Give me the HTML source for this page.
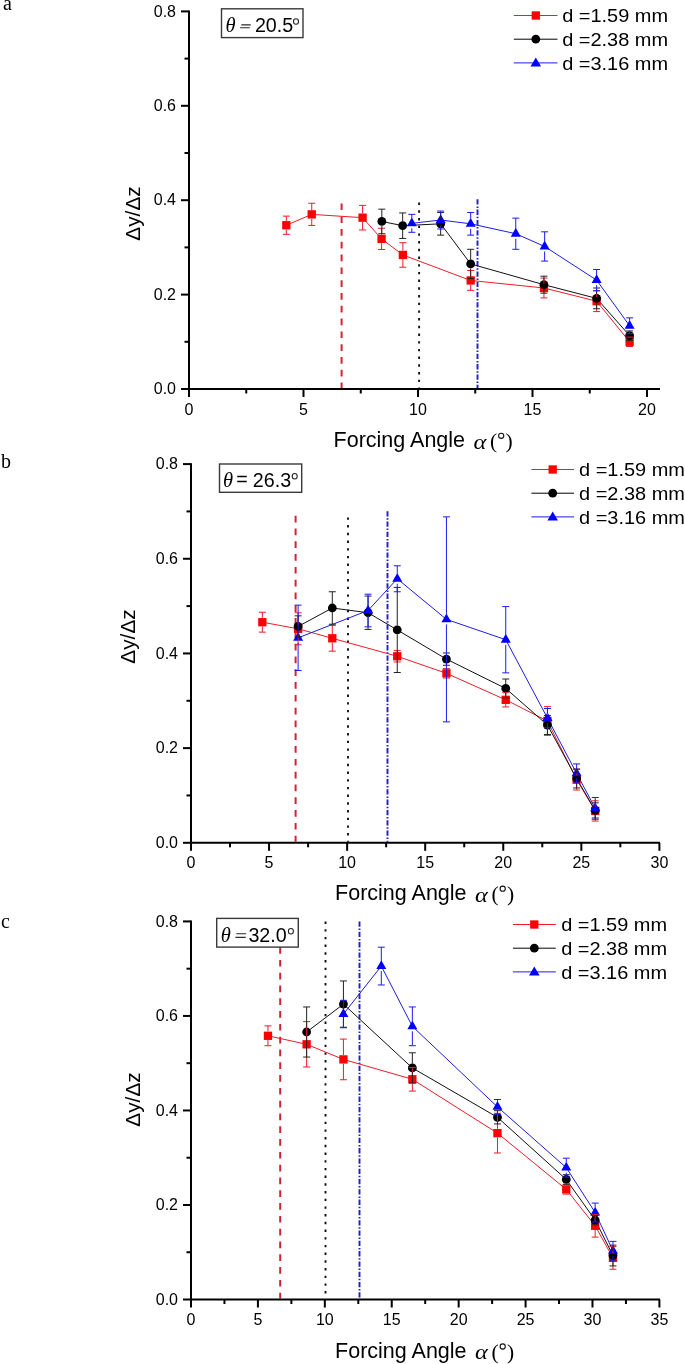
<!DOCTYPE html>
<html><head><meta charset="utf-8"><title>Forcing angle charts</title>
<style>html,body{margin:0;padding:0;background:#fff;}svg{display:block;will-change:transform;}text{fill:#000;}</style>
</head><body>
<svg width="685" height="1364" viewBox="0 0 685 1364" font-family="Liberation Sans, sans-serif">
<rect width="685" height="1364" fill="#fff"/>
<line x1="341.6" y1="203.4" x2="341.6" y2="388" stroke="#cf2433" stroke-width="2" stroke-dasharray="6.7 6.1"/>
<line x1="419.1" y1="202.6" x2="419.1" y2="388" stroke="#111" stroke-width="1.9" stroke-dasharray="2.4 5.3"/>
<line x1="477.5" y1="199.3" x2="477.5" y2="388" stroke="#2020c0" stroke-width="1.9" stroke-dasharray="5.3 1.8 1.5 1.7"/>
<path d="M286.32,225.22 L311.74,214.36 L362.58,217.66 L381.59,238.9 L402.89,254.95 L470.67,280.44 L543.95,287.99 L596.62,301.21 L629.6,341.8" fill="none" stroke="#ee1c2a" stroke-width="1"/>
<path d="M381.82,221.44 L402.66,225.69 L440.67,223.8 L470.67,263.92 L543.95,284.69 L596.62,298.38 L629.6,335.66" fill="none" stroke="#111" stroke-width="1"/>
<path d="M411.82,223.33 L440.67,220.02 L470.67,223.8 L515.78,233.71 L544.64,246.46 L596.62,280.11 L629.6,325.75" fill="none" stroke="#1c1cf0" stroke-width="1"/>
<rect x="282.18" y="221.07" width="8.3" height="8.3" fill="#ff0000"/>
<rect x="307.59" y="210.21" width="8.3" height="8.3" fill="#ff0000"/>
<rect x="358.43" y="213.51" width="8.3" height="8.3" fill="#ff0000"/>
<rect x="377.44" y="234.75" width="8.3" height="8.3" fill="#ff0000"/>
<rect x="398.74" y="250.8" width="8.3" height="8.3" fill="#ff0000"/>
<rect x="466.52" y="276.29" width="8.3" height="8.3" fill="#ff0000"/>
<rect x="539.8" y="283.84" width="8.3" height="8.3" fill="#ff0000"/>
<rect x="592.47" y="297.06" width="8.3" height="8.3" fill="#ff0000"/>
<rect x="625.45" y="337.65" width="8.3" height="8.3" fill="#ff0000"/>
<circle cx="381.82" cy="221.44" r="4.4" fill="#000000"/>
<circle cx="402.66" cy="225.69" r="4.4" fill="#000000"/>
<circle cx="440.67" cy="223.8" r="4.4" fill="#000000"/>
<circle cx="470.67" cy="263.92" r="4.4" fill="#000000"/>
<circle cx="543.95" cy="284.69" r="4.4" fill="#000000"/>
<circle cx="596.62" cy="298.38" r="4.4" fill="#000000"/>
<circle cx="629.6" cy="335.66" r="4.4" fill="#000000"/>
<path d="M411.82,217.46 L416.82,226.26 L406.82,226.26Z" fill="#0000ff"/>
<path d="M440.67,214.16 L445.67,222.96 L435.67,222.96Z" fill="#0000ff"/>
<path d="M470.67,217.93 L475.67,226.73 L465.67,226.73Z" fill="#0000ff"/>
<path d="M515.78,227.85 L520.78,236.65 L510.78,236.65Z" fill="#0000ff"/>
<path d="M544.64,240.59 L549.64,249.39 L539.64,249.39Z" fill="#0000ff"/>
<path d="M596.62,274.24 L601.62,283.04 L591.62,283.04Z" fill="#0000ff"/>
<path d="M629.6,319.89 L634.6,328.69 L624.6,328.69Z" fill="#0000ff"/>
<path d="M286.32,220.92 V216.11 M286.32,229.52 V234.33 M282.82,216.11 H289.82 M282.82,234.33 H289.82 M311.74,210.06 V203.27 M311.74,218.66 V225.45 M308.24,203.27 H315.24 M308.24,225.45 H315.24 M362.58,213.36 V205.39 M362.58,221.96 V229.94 M359.08,205.39 H366.08 M359.08,229.94 H366.08 M381.59,234.6 V228.28 M381.59,243.2 V249.52 M378.09,228.28 H385.09 M378.09,249.52 H385.09 M402.89,250.65 V242.68 M402.89,259.25 V267.22 M399.39,242.68 H406.39 M399.39,267.22 H406.39 M470.67,276.14 V270.53 M470.67,284.74 V290.35 M467.17,270.53 H474.17 M467.17,290.35 H474.17 M543.95,283.69 V278.08 M543.95,292.29 V297.9 M540.45,278.08 H547.45 M540.45,297.9 H547.45 M596.62,296.91 V290.82 M596.62,305.51 V311.59 M593.12,290.82 H600.12 M593.12,311.59 H600.12 M629.6,337.5 V337.08 M629.6,346.1 V346.52 M626.1,337.08 H633.1 M626.1,346.52 H633.1" fill="none" stroke="#ee1c2a" stroke-width="1"/>
<path d="M381.82,217.14 V209.17 M381.82,225.74 V233.71 M378.32,209.17 H385.32 M378.32,233.71 H385.32 M402.66,221.39 V212.94 M402.66,229.99 V238.43 M399.16,212.94 H406.16 M399.16,238.43 H406.16 M440.67,219.5 V212.47 M440.67,228.1 V235.13 M437.17,212.47 H444.17 M437.17,235.13 H444.17 M470.67,259.62 V249.29 M470.67,268.22 V278.55 M467.17,249.29 H474.17 M467.17,278.55 H474.17 M543.95,280.39 V276.19 M543.95,288.99 V293.18 M540.45,276.19 H547.45 M540.45,293.18 H547.45 M596.62,294.08 V287.99 M596.62,302.68 V308.76 M593.12,287.99 H600.12 M593.12,308.76 H600.12 M629.6,331.36 V330.94 M629.6,339.96 V340.38 M626.1,330.94 H633.1 M626.1,340.38 H633.1" fill="none" stroke="#222" stroke-width="1"/>
<path d="M411.82,218.33 V214.36 M411.82,228.33 V232.3 M408.32,214.36 H415.32 M408.32,232.3 H415.32 M440.67,215.02 V211.06 M440.67,225.02 V228.99 M437.17,211.06 H444.17 M437.17,228.99 H444.17 M470.67,218.8 V212.47 M470.67,228.8 V235.13 M467.17,212.47 H474.17 M467.17,235.13 H474.17 M515.78,228.71 V218.14 M515.78,238.71 V249.29 M512.28,218.14 H519.28 M512.28,249.29 H519.28 M544.64,241.46 V231.82 M544.64,251.46 V261.09 M541.14,231.82 H548.14 M541.14,261.09 H548.14 M596.62,275.11 V269.49 M596.62,285.11 V290.73 M593.12,269.49 H600.12 M593.12,290.73 H600.12 M629.6,320.75 V317.87 M629.6,330.75 V333.63 M626.1,317.87 H633.1 M626.1,333.63 H633.1" fill="none" stroke="#1c1cf0" stroke-width="1"/>
<line x1="189" y1="10.4" x2="189" y2="390" stroke="#000" stroke-width="2"/>
<line x1="188" y1="389" x2="660" y2="389" stroke="#000" stroke-width="2"/>
<line x1="181" y1="389" x2="189" y2="389" stroke="#000" stroke-width="2"/>
<text x="176" y="394.2" font-size="16" text-anchor="end">0.0</text>
<line x1="184.5" y1="341.8" x2="189" y2="341.8" stroke="#000" stroke-width="2"/>
<line x1="181" y1="294.6" x2="189" y2="294.6" stroke="#000" stroke-width="2"/>
<text x="176" y="299.8" font-size="16" text-anchor="end">0.2</text>
<line x1="184.5" y1="247.4" x2="189" y2="247.4" stroke="#000" stroke-width="2"/>
<line x1="181" y1="200.2" x2="189" y2="200.2" stroke="#000" stroke-width="2"/>
<text x="176" y="205.4" font-size="16" text-anchor="end">0.4</text>
<line x1="184.5" y1="153" x2="189" y2="153" stroke="#000" stroke-width="2"/>
<line x1="181" y1="105.8" x2="189" y2="105.8" stroke="#000" stroke-width="2"/>
<text x="176" y="111" font-size="16" text-anchor="end">0.6</text>
<line x1="184.5" y1="58.6" x2="189" y2="58.6" stroke="#000" stroke-width="2"/>
<line x1="181" y1="11.4" x2="189" y2="11.4" stroke="#000" stroke-width="2"/>
<text x="176" y="16.6" font-size="16" text-anchor="end">0.8</text>
<line x1="189" y1="389" x2="189" y2="397" stroke="#000" stroke-width="2"/>
<text x="189" y="415" font-size="16" text-anchor="middle">0</text>
<line x1="246.25" y1="389" x2="246.25" y2="393.5" stroke="#000" stroke-width="2"/>
<line x1="303.5" y1="389" x2="303.5" y2="397" stroke="#000" stroke-width="2"/>
<text x="303.5" y="415" font-size="16" text-anchor="middle">5</text>
<line x1="360.75" y1="389" x2="360.75" y2="393.5" stroke="#000" stroke-width="2"/>
<line x1="418" y1="389" x2="418" y2="397" stroke="#000" stroke-width="2"/>
<text x="418" y="415" font-size="16" text-anchor="middle">10</text>
<line x1="475.25" y1="389" x2="475.25" y2="393.5" stroke="#000" stroke-width="2"/>
<line x1="532.5" y1="389" x2="532.5" y2="397" stroke="#000" stroke-width="2"/>
<text x="532.5" y="415" font-size="16" text-anchor="middle">15</text>
<line x1="589.75" y1="389" x2="589.75" y2="393.5" stroke="#000" stroke-width="2"/>
<line x1="647" y1="389" x2="647" y2="397" stroke="#000" stroke-width="2"/>
<text x="647" y="415" font-size="16" text-anchor="middle">20</text>
<rect x="221.5" y="8.8" width="81.5" height="28.8" fill="#fff" stroke="#3a3a3a" stroke-width="1.4"/>
<text x="225.4" y="32.3" font-size="20.5" style="font-family:Liberation Serif;font-style:italic">θ</text>
<path d="M241.3,24.9 H250.7 M240.1,27.8 H249.8" stroke="#2a2a2a" stroke-width="1.1" fill="none"/>
<text x="254.9" y="32.2" font-size="19.7">20.5</text>
<ellipse cx="296" cy="21.5" rx="2.5" ry="2.8" fill="none" stroke="#222" stroke-width="1.05"/>
<line x1="513.8" y1="15.5" x2="557.5" y2="15.5" stroke="#ee1c2a" stroke-width="1"/>
<rect x="531.65" y="11.35" width="8.3" height="8.3" fill="#ff0000"/>
<text transform="translate(562.2,21.9) scale(1.062,1)" font-size="18.8">d =1.59 mm</text>
<line x1="513.8" y1="39.2" x2="557.5" y2="39.2" stroke="#000" stroke-width="1"/>
<circle cx="535.8" cy="39.2" r="4.4" fill="#000000"/>
<text transform="translate(562.2,45.9) scale(1.062,1)" font-size="18.8">d =2.38 mm</text>
<line x1="513.8" y1="62.9" x2="557.5" y2="62.9" stroke="#1c1cf0" stroke-width="1"/>
<path d="M535.8,57.4 L541.1,66.4 L530.5,66.4Z" fill="#0000ff"/>
<text transform="translate(562.2,69.9) scale(1.062,1)" font-size="18.8">d =3.16 mm</text>
<text x="333.6" y="447" font-size="21.5">Forcing Angle</text>
<text transform="translate(473.4,448.6) scale(1.11,1)" font-size="22" style="font-family:Liberation Serif;font-style:italic">α</text>
<text x="490" y="448" font-size="21.5" style="font-family:Liberation Serif">(</text>
<text x="505.6" y="448" font-size="21.5" style="font-family:Liberation Serif">)</text>
<circle cx="501.2" cy="435.8" r="2.6" fill="none" stroke="#111" stroke-width="1.1"/>
<text transform="translate(139.8,213.5) rotate(-90)" x="0" y="0" font-size="20.8" text-anchor="middle">Δy/Δz</text>
<text x="3" y="10.3" font-size="20" style="font-family:Liberation Serif">a</text>
<line x1="295.6" y1="515.7" x2="295.6" y2="841.8" stroke="#cf2433" stroke-width="2" stroke-dasharray="6.7 6.1"/>
<line x1="348" y1="517.4" x2="348" y2="841.8" stroke="#111" stroke-width="1.9" stroke-dasharray="2.4 5.3"/>
<line x1="387.5" y1="511.2" x2="387.5" y2="841.8" stroke="#2020c0" stroke-width="1.9" stroke-dasharray="5.3 1.8 1.5 1.7"/>
<path d="M262.35,622.2 L298.11,628.82 L332.3,638.29 L397.25,656.28 L446.43,673.32 L505.76,699.83 L547.44,720.99 L576.64,779.6 L595.22,810.94" fill="none" stroke="#ee1c2a" stroke-width="1"/>
<path d="M298.11,626.46 L332.3,607.99 L368.05,612.73 L397.25,629.96 L446.43,659.12 L505.76,688.47 L547.44,725.02 L576.64,778.51 L595.22,810.42" fill="none" stroke="#111" stroke-width="1"/>
<path d="M298.11,637.82 L368.05,610.5 L397.25,578.78 L446.43,619.36 L505.76,639.71 L547.44,718.11 L576.64,773.4 L595.22,808.38" fill="none" stroke="#1c1cf0" stroke-width="1"/>
<rect x="258.2" y="618.05" width="8.3" height="8.3" fill="#ff0000"/>
<rect x="293.96" y="624.67" width="8.3" height="8.3" fill="#ff0000"/>
<rect x="328.15" y="634.14" width="8.3" height="8.3" fill="#ff0000"/>
<rect x="393.1" y="652.13" width="8.3" height="8.3" fill="#ff0000"/>
<rect x="442.28" y="669.17" width="8.3" height="8.3" fill="#ff0000"/>
<rect x="501.61" y="695.68" width="8.3" height="8.3" fill="#ff0000"/>
<rect x="543.29" y="716.84" width="8.3" height="8.3" fill="#ff0000"/>
<rect x="572.49" y="775.45" width="8.3" height="8.3" fill="#ff0000"/>
<rect x="591.07" y="806.79" width="8.3" height="8.3" fill="#ff0000"/>
<circle cx="298.11" cy="626.46" r="4.4" fill="#000000"/>
<circle cx="332.3" cy="607.99" r="4.4" fill="#000000"/>
<circle cx="368.05" cy="612.73" r="4.4" fill="#000000"/>
<circle cx="397.25" cy="629.96" r="4.4" fill="#000000"/>
<circle cx="446.43" cy="659.12" r="4.4" fill="#000000"/>
<circle cx="505.76" cy="688.47" r="4.4" fill="#000000"/>
<circle cx="547.44" cy="725.02" r="4.4" fill="#000000"/>
<circle cx="576.64" cy="778.51" r="4.4" fill="#000000"/>
<circle cx="595.22" cy="810.42" r="4.4" fill="#000000"/>
<path d="M298.11,631.95 L303.11,640.75 L293.11,640.75Z" fill="#0000ff"/>
<path d="M368.05,604.64 L373.05,613.44 L363.05,613.44Z" fill="#0000ff"/>
<path d="M397.25,572.92 L402.25,581.72 L392.25,581.72Z" fill="#0000ff"/>
<path d="M446.43,613.49 L451.43,622.29 L441.43,622.29Z" fill="#0000ff"/>
<path d="M505.76,633.84 L510.76,642.64 L500.76,642.64Z" fill="#0000ff"/>
<path d="M547.44,712.24 L552.44,721.04 L542.44,721.04Z" fill="#0000ff"/>
<path d="M576.64,767.53 L581.64,776.33 L571.64,776.33Z" fill="#0000ff"/>
<path d="M595.22,802.52 L600.22,811.32 L590.22,811.32Z" fill="#0000ff"/>
<path d="M262.35,617.9 V612.25 M262.35,626.5 V632.14 M258.85,612.25 H265.85 M258.85,632.14 H265.85 M298.11,624.52 V612.82 M298.11,633.12 V644.82 M294.61,612.82 H301.61 M294.61,644.82 H301.61 M332.3,633.99 V625.41 M332.3,642.59 V651.17 M328.8,625.41 H335.8 M328.8,651.17 H335.8 M397.25,651.98 V650.6 M397.25,660.58 V661.96 M393.75,650.6 H400.75 M393.75,661.96 H400.75 M446.43,669.02 V668.59 M446.43,677.62 V678.06 M442.93,668.59 H449.93 M442.93,678.06 H449.93 M505.76,695.53 V692.73 M505.76,704.13 V706.93 M502.26,692.73 H509.26 M502.26,706.93 H509.26 M547.44,716.69 V706.6 M547.44,725.29 V735.39 M543.94,706.6 H550.94 M543.94,735.39 H550.94 M576.64,775.3 V769.19 M576.64,783.9 V790.02 M573.14,769.19 H580.14 M573.14,790.02 H580.14 M595.22,806.64 V800.81 M595.22,815.24 V821.07 M591.72,800.81 H598.72 M591.72,821.07 H598.72" fill="none" stroke="#ee1c2a" stroke-width="1"/>
<path d="M298.11,622.16 V615.85 M298.11,630.76 V637.06 M294.61,615.85 H301.61 M294.61,637.06 H301.61 M332.3,603.69 V591.76 M332.3,612.29 V624.23 M328.8,591.76 H335.8 M328.8,624.23 H335.8 M368.05,608.43 V596.06 M368.05,617.03 V629.39 M364.55,596.06 H371.55 M364.55,629.39 H371.55 M397.25,625.66 V587.4 M397.25,634.26 V672.52 M393.75,587.4 H400.75 M393.75,672.52 H400.75 M446.43,654.82 V652.97 M446.43,663.42 V665.27 M442.93,652.97 H449.93 M442.93,665.27 H449.93 M505.76,684.17 V679 M505.76,692.77 V697.94 M502.26,679 H509.26 M502.26,697.94 H509.26 M547.44,720.72 V715.6 M547.44,729.32 V734.44 M543.94,715.6 H550.94 M543.94,734.44 H550.94 M576.64,774.21 V769.04 M576.64,782.81 V787.98 M573.14,769.04 H580.14 M573.14,787.98 H580.14 M595.22,806.12 V802.85 M595.22,814.72 V817.99 M591.72,802.85 H598.72 M591.72,817.99 H598.72" fill="none" stroke="#222" stroke-width="1"/>
<path d="M298.11,632.82 V605.15 M298.11,642.82 V670.48 M294.61,605.15 H301.61 M294.61,670.48 H301.61 M368.05,605.5 V594.17 M368.05,615.5 V626.83 M364.55,594.17 H371.55 M364.55,626.83 H371.55 M397.25,573.78 V565.81 M397.25,583.78 V591.76 M393.75,565.81 H400.75 M393.75,591.76 H400.75 M446.43,614.36 V516.86 M446.43,624.36 V721.85 M442.93,516.86 H449.93 M442.93,721.85 H449.93 M505.76,634.71 V606.57 M505.76,644.71 V672.85 M502.26,606.57 H509.26 M502.26,672.85 H509.26 M547.44,713.11 V708.5 M547.44,723.11 V727.72 M543.94,708.5 H550.94 M543.94,727.72 H550.94 M576.64,768.4 V763.93 M576.64,778.4 V782.87 M573.14,763.93 H580.14 M573.14,782.87 H580.14 M595.22,803.38 V797.5 M595.22,813.38 V819.27 M591.72,797.5 H598.72 M591.72,819.27 H598.72" fill="none" stroke="#1c1cf0" stroke-width="1"/>
<line x1="191" y1="463.2" x2="191" y2="843.8" stroke="#000" stroke-width="2"/>
<line x1="190" y1="842.8" x2="660" y2="842.8" stroke="#000" stroke-width="2"/>
<line x1="183" y1="842.8" x2="191" y2="842.8" stroke="#000" stroke-width="2"/>
<text x="178" y="848" font-size="16" text-anchor="end">0.0</text>
<line x1="186.5" y1="795.46" x2="191" y2="795.46" stroke="#000" stroke-width="2"/>
<line x1="183" y1="748.12" x2="191" y2="748.12" stroke="#000" stroke-width="2"/>
<text x="178" y="753.32" font-size="16" text-anchor="end">0.2</text>
<line x1="186.5" y1="700.78" x2="191" y2="700.78" stroke="#000" stroke-width="2"/>
<line x1="183" y1="653.44" x2="191" y2="653.44" stroke="#000" stroke-width="2"/>
<text x="178" y="658.64" font-size="16" text-anchor="end">0.4</text>
<line x1="186.5" y1="606.1" x2="191" y2="606.1" stroke="#000" stroke-width="2"/>
<line x1="183" y1="558.76" x2="191" y2="558.76" stroke="#000" stroke-width="2"/>
<text x="178" y="563.96" font-size="16" text-anchor="end">0.6</text>
<line x1="186.5" y1="511.42" x2="191" y2="511.42" stroke="#000" stroke-width="2"/>
<line x1="183" y1="464.08" x2="191" y2="464.08" stroke="#000" stroke-width="2"/>
<text x="178" y="469.28" font-size="16" text-anchor="end">0.8</text>
<line x1="191" y1="842.8" x2="191" y2="850.8" stroke="#000" stroke-width="2"/>
<text x="191" y="867.5" font-size="16" text-anchor="middle">0</text>
<line x1="230.03" y1="842.8" x2="230.03" y2="847.3" stroke="#000" stroke-width="2"/>
<line x1="269.06" y1="842.8" x2="269.06" y2="850.8" stroke="#000" stroke-width="2"/>
<text x="269.06" y="867.5" font-size="16" text-anchor="middle">5</text>
<line x1="308.1" y1="842.8" x2="308.1" y2="847.3" stroke="#000" stroke-width="2"/>
<line x1="347.13" y1="842.8" x2="347.13" y2="850.8" stroke="#000" stroke-width="2"/>
<text x="347.13" y="867.5" font-size="16" text-anchor="middle">10</text>
<line x1="386.16" y1="842.8" x2="386.16" y2="847.3" stroke="#000" stroke-width="2"/>
<line x1="425.19" y1="842.8" x2="425.19" y2="850.8" stroke="#000" stroke-width="2"/>
<text x="425.19" y="867.5" font-size="16" text-anchor="middle">15</text>
<line x1="464.23" y1="842.8" x2="464.23" y2="847.3" stroke="#000" stroke-width="2"/>
<line x1="503.26" y1="842.8" x2="503.26" y2="850.8" stroke="#000" stroke-width="2"/>
<text x="503.26" y="867.5" font-size="16" text-anchor="middle">20</text>
<line x1="542.29" y1="842.8" x2="542.29" y2="847.3" stroke="#000" stroke-width="2"/>
<line x1="581.33" y1="842.8" x2="581.33" y2="850.8" stroke="#000" stroke-width="2"/>
<text x="581.33" y="867.5" font-size="16" text-anchor="middle">25</text>
<line x1="620.36" y1="842.8" x2="620.36" y2="847.3" stroke="#000" stroke-width="2"/>
<line x1="659.39" y1="842.8" x2="659.39" y2="850.8" stroke="#000" stroke-width="2"/>
<text x="659.39" y="867.5" font-size="16" text-anchor="middle">30</text>
<rect x="219.5" y="464" width="82.2" height="28.3" fill="#fff" stroke="#3a3a3a" stroke-width="1.4"/>
<text x="223.1" y="486.7" font-size="20.5" style="font-family:Liberation Serif;font-style:italic">θ</text>
<text x="236.3" y="486" font-size="19.7">=</text>
<text x="252.8" y="486.8" font-size="19.7">26.3</text>
<ellipse cx="294.7" cy="476.2" rx="2.5" ry="2.8" fill="none" stroke="#222" stroke-width="1.05"/>
<line x1="531.4" y1="469.5" x2="574" y2="469.5" stroke="#ee1c2a" stroke-width="1"/>
<rect x="548.55" y="465.35" width="8.3" height="8.3" fill="#ff0000"/>
<text transform="translate(579,475.9) scale(1.062,1)" font-size="18.8">d =1.59 mm</text>
<line x1="531.4" y1="493.2" x2="574" y2="493.2" stroke="#000" stroke-width="1"/>
<circle cx="552.7" cy="493.2" r="4.4" fill="#000000"/>
<text transform="translate(579,499.9) scale(1.062,1)" font-size="18.8">d =2.38 mm</text>
<line x1="531.4" y1="516.9" x2="574" y2="516.9" stroke="#1c1cf0" stroke-width="1"/>
<path d="M552.7,511.4 L558,520.4 L547.4,520.4Z" fill="#0000ff"/>
<text transform="translate(579,523.9) scale(1.062,1)" font-size="18.8">d =3.16 mm</text>
<text x="335.1" y="899.9" font-size="21.5">Forcing Angle</text>
<text transform="translate(474.9,901.5) scale(1.11,1)" font-size="22" style="font-family:Liberation Serif;font-style:italic">α</text>
<text x="491.5" y="900.9" font-size="21.5" style="font-family:Liberation Serif">(</text>
<text x="507.1" y="900.9" font-size="21.5" style="font-family:Liberation Serif">)</text>
<circle cx="502.7" cy="888.7" r="2.6" fill="none" stroke="#111" stroke-width="1.1"/>
<text transform="translate(134.9,636.5) rotate(-90)" x="0" y="0" font-size="20.8" text-anchor="middle">Δy/Δz</text>
<text x="1" y="467.8" font-size="20" style="font-family:Liberation Serif">b</text>
<line x1="280.2" y1="921.5" x2="280.2" y2="1298.5" stroke="#cf2433" stroke-width="2" stroke-dasharray="6.7 6.1"/>
<line x1="325.5" y1="921.5" x2="325.5" y2="1298.5" stroke="#111" stroke-width="1.9" stroke-dasharray="2.4 5.3"/>
<line x1="359.5" y1="921.5" x2="359.5" y2="1298.5" stroke="#2020c0" stroke-width="1.9" stroke-dasharray="5.3 1.8 1.5 1.7"/>
<path d="M267.95,1035.79 L306.63,1044.3 L343.43,1059.42 L412.35,1079.27 L497.47,1133.14 L566.26,1189.38 L595.17,1225.77 L612.97,1257.91" fill="none" stroke="#ee1c2a" stroke-width="1"/>
<path d="M306.63,1032.01 L343.43,1004.12 L412.35,1067.93 L497.47,1117.31 L566.26,1179.46 L595.17,1220.1 L612.97,1255.55" fill="none" stroke="#111" stroke-width="1"/>
<path d="M343.43,1014.05 L381.31,966.08 L412.35,1026.34 L497.47,1106.92 L566.26,1167.64 L595.17,1212.54 L612.97,1250.82" fill="none" stroke="#1c1cf0" stroke-width="1"/>
<rect x="263.8" y="1031.64" width="8.3" height="8.3" fill="#ff0000"/>
<rect x="302.48" y="1040.15" width="8.3" height="8.3" fill="#ff0000"/>
<rect x="339.28" y="1055.27" width="8.3" height="8.3" fill="#ff0000"/>
<rect x="408.2" y="1075.12" width="8.3" height="8.3" fill="#ff0000"/>
<rect x="493.32" y="1128.99" width="8.3" height="8.3" fill="#ff0000"/>
<rect x="562.11" y="1185.23" width="8.3" height="8.3" fill="#ff0000"/>
<rect x="591.02" y="1221.62" width="8.3" height="8.3" fill="#ff0000"/>
<rect x="608.82" y="1253.76" width="8.3" height="8.3" fill="#ff0000"/>
<circle cx="306.63" cy="1032.01" r="4.4" fill="#000000"/>
<circle cx="343.43" cy="1004.12" r="4.4" fill="#000000"/>
<circle cx="412.35" cy="1067.93" r="4.4" fill="#000000"/>
<circle cx="497.47" cy="1117.31" r="4.4" fill="#000000"/>
<circle cx="566.26" cy="1179.46" r="4.4" fill="#000000"/>
<circle cx="595.17" cy="1220.1" r="4.4" fill="#000000"/>
<circle cx="612.97" cy="1255.55" r="4.4" fill="#000000"/>
<path d="M343.43,1008.18 L348.43,1016.98 L338.43,1016.98Z" fill="#0000ff"/>
<path d="M381.31,960.21 L386.31,969.01 L376.31,969.01Z" fill="#0000ff"/>
<path d="M412.35,1020.47 L417.35,1029.27 L407.35,1029.27Z" fill="#0000ff"/>
<path d="M497.47,1101.05 L502.47,1109.85 L492.47,1109.85Z" fill="#0000ff"/>
<path d="M566.26,1161.78 L571.26,1170.58 L561.26,1170.58Z" fill="#0000ff"/>
<path d="M595.17,1206.67 L600.17,1215.47 L590.17,1215.47Z" fill="#0000ff"/>
<path d="M612.97,1244.96 L617.97,1253.76 L607.97,1253.76Z" fill="#0000ff"/>
<path d="M267.95,1031.49 V1025.86 M267.95,1040.09 V1045.71 M264.45,1025.86 H271.45 M264.45,1045.71 H271.45 M306.63,1040 V1021.61 M306.63,1048.6 V1066.98 M303.13,1021.61 H310.13 M303.13,1066.98 H310.13 M343.43,1055.12 V1039.1 M343.43,1063.72 V1079.74 M339.93,1039.1 H346.93 M339.93,1079.74 H346.93 M412.35,1074.97 V1067.45 M412.35,1083.57 V1091.08 M408.85,1067.45 H415.85 M408.85,1091.08 H415.85 M497.47,1128.84 V1113.3 M497.47,1137.44 V1152.99 M493.97,1113.3 H500.97 M493.97,1152.99 H500.97 M566.26,1185.08 V1184.66 M566.26,1193.68 V1194.11 M562.76,1184.66 H569.76 M562.76,1194.11 H569.76 M595.17,1221.47 V1214.43 M595.17,1230.07 V1237.12 M591.67,1214.43 H598.67 M591.67,1237.12 H598.67 M612.97,1253.61 V1246.57 M612.97,1262.21 V1269.25 M609.47,1246.57 H616.47 M609.47,1269.25 H616.47" fill="none" stroke="#ee1c2a" stroke-width="1"/>
<path d="M306.63,1027.71 V1006.96 M306.63,1036.31 V1057.06 M303.13,1006.96 H310.13 M303.13,1057.06 H310.13 M343.43,999.83 V980.97 M343.43,1008.42 V1027.28 M339.93,980.97 H346.93 M339.93,1027.28 H346.93 M412.35,1063.63 V1052.8 M412.35,1072.23 V1083.05 M408.85,1052.8 H415.85 M408.85,1083.05 H415.85 M497.47,1113.01 V1110.7 M497.47,1121.61 V1123.93 M493.97,1110.7 H500.97 M493.97,1123.93 H500.97 M566.26,1175.16 V1174.73 M566.26,1183.76 V1184.19 M562.76,1174.73 H569.76 M562.76,1184.19 H569.76 M595.17,1215.8 V1215.38 M595.17,1224.4 V1224.83 M591.67,1215.38 H598.67 M591.67,1224.83 H598.67 M612.97,1251.25 V1245.15 M612.97,1259.85 V1265.95 M609.47,1245.15 H616.47 M609.47,1265.95 H616.47" fill="none" stroke="#222" stroke-width="1"/>
<path d="M343.43,1009.05 V1000.34 M343.43,1019.05 V1027.76 M339.93,1000.34 H346.93 M339.93,1027.76 H346.93 M381.31,961.08 V947.18 M381.31,971.08 V984.98 M377.81,947.18 H384.81 M377.81,984.98 H384.81 M412.35,1021.34 V1006.96 M412.35,1031.34 V1045.71 M408.85,1006.96 H415.85 M408.85,1045.71 H415.85 M497.47,1101.92 V1099.5 M497.47,1111.92 V1114.34 M493.97,1099.5 H500.97 M493.97,1114.34 H500.97 M566.26,1162.64 V1158.19 M566.26,1172.64 V1177.1 M562.76,1158.19 H569.76 M562.76,1177.1 H569.76 M595.17,1207.54 V1203.09 M595.17,1217.54 V1221.99 M591.67,1203.09 H598.67 M591.67,1221.99 H598.67 M612.97,1245.82 V1241.37 M612.97,1255.82 V1260.27 M609.47,1241.37 H616.47 M609.47,1260.27 H616.47" fill="none" stroke="#1c1cf0" stroke-width="1"/>
<line x1="191" y1="920.4" x2="191" y2="1300.5" stroke="#000" stroke-width="2"/>
<line x1="190" y1="1299.5" x2="660" y2="1299.5" stroke="#000" stroke-width="2"/>
<line x1="183" y1="1299.5" x2="191" y2="1299.5" stroke="#000" stroke-width="2"/>
<text x="178" y="1304.7" font-size="16" text-anchor="end">0.0</text>
<line x1="186.5" y1="1252.24" x2="191" y2="1252.24" stroke="#000" stroke-width="2"/>
<line x1="183" y1="1204.98" x2="191" y2="1204.98" stroke="#000" stroke-width="2"/>
<text x="178" y="1210.18" font-size="16" text-anchor="end">0.2</text>
<line x1="186.5" y1="1157.72" x2="191" y2="1157.72" stroke="#000" stroke-width="2"/>
<line x1="183" y1="1110.46" x2="191" y2="1110.46" stroke="#000" stroke-width="2"/>
<text x="178" y="1115.66" font-size="16" text-anchor="end">0.4</text>
<line x1="186.5" y1="1063.2" x2="191" y2="1063.2" stroke="#000" stroke-width="2"/>
<line x1="183" y1="1015.94" x2="191" y2="1015.94" stroke="#000" stroke-width="2"/>
<text x="178" y="1021.14" font-size="16" text-anchor="end">0.6</text>
<line x1="186.5" y1="968.68" x2="191" y2="968.68" stroke="#000" stroke-width="2"/>
<line x1="183" y1="921.42" x2="191" y2="921.42" stroke="#000" stroke-width="2"/>
<text x="178" y="926.62" font-size="16" text-anchor="end">0.8</text>
<line x1="191" y1="1299.5" x2="191" y2="1307.5" stroke="#000" stroke-width="2"/>
<text x="191" y="1324.6" font-size="16" text-anchor="middle">0</text>
<line x1="224.46" y1="1299.5" x2="224.46" y2="1304" stroke="#000" stroke-width="2"/>
<line x1="257.91" y1="1299.5" x2="257.91" y2="1307.5" stroke="#000" stroke-width="2"/>
<text x="257.91" y="1324.6" font-size="16" text-anchor="middle">5</text>
<line x1="291.37" y1="1299.5" x2="291.37" y2="1304" stroke="#000" stroke-width="2"/>
<line x1="324.83" y1="1299.5" x2="324.83" y2="1307.5" stroke="#000" stroke-width="2"/>
<text x="324.83" y="1324.6" font-size="16" text-anchor="middle">10</text>
<line x1="358.29" y1="1299.5" x2="358.29" y2="1304" stroke="#000" stroke-width="2"/>
<line x1="391.75" y1="1299.5" x2="391.75" y2="1307.5" stroke="#000" stroke-width="2"/>
<text x="391.75" y="1324.6" font-size="16" text-anchor="middle">15</text>
<line x1="425.2" y1="1299.5" x2="425.2" y2="1304" stroke="#000" stroke-width="2"/>
<line x1="458.66" y1="1299.5" x2="458.66" y2="1307.5" stroke="#000" stroke-width="2"/>
<text x="458.66" y="1324.6" font-size="16" text-anchor="middle">20</text>
<line x1="492.12" y1="1299.5" x2="492.12" y2="1304" stroke="#000" stroke-width="2"/>
<line x1="525.58" y1="1299.5" x2="525.58" y2="1307.5" stroke="#000" stroke-width="2"/>
<text x="525.58" y="1324.6" font-size="16" text-anchor="middle">25</text>
<line x1="559.03" y1="1299.5" x2="559.03" y2="1304" stroke="#000" stroke-width="2"/>
<line x1="592.49" y1="1299.5" x2="592.49" y2="1307.5" stroke="#000" stroke-width="2"/>
<text x="592.49" y="1324.6" font-size="16" text-anchor="middle">30</text>
<line x1="625.95" y1="1299.5" x2="625.95" y2="1304" stroke="#000" stroke-width="2"/>
<line x1="659.4" y1="1299.5" x2="659.4" y2="1307.5" stroke="#000" stroke-width="2"/>
<text x="659.4" y="1324.6" font-size="16" text-anchor="middle">35</text>
<rect x="216.7" y="918.4" width="81.6" height="28.7" fill="#fff" stroke="#3a3a3a" stroke-width="1.4"/>
<text x="220.7" y="941.5" font-size="20.5" style="font-family:Liberation Serif;font-style:italic">θ</text>
<path d="M236.3,933.7 H246.2 M235.4,937.4 H245.7" stroke="#2a2a2a" stroke-width="1.1" fill="none"/>
<text x="248.4" y="941.5" font-size="19.7">32.0</text>
<ellipse cx="290.9" cy="931.2" rx="2.5" ry="2.8" fill="none" stroke="#222" stroke-width="1.05"/>
<line x1="512.9" y1="924.5" x2="555.8" y2="924.5" stroke="#ee1c2a" stroke-width="1"/>
<rect x="530.15" y="920.35" width="8.3" height="8.3" fill="#ff0000"/>
<text transform="translate(561.2,930.9) scale(1.062,1)" font-size="18.8">d =1.59 mm</text>
<line x1="512.9" y1="948.2" x2="555.8" y2="948.2" stroke="#000" stroke-width="1"/>
<circle cx="534.3" cy="948.2" r="4.4" fill="#000000"/>
<text transform="translate(561.2,954.9) scale(1.062,1)" font-size="18.8">d =2.38 mm</text>
<line x1="512.9" y1="971.9" x2="555.8" y2="971.9" stroke="#1c1cf0" stroke-width="1"/>
<path d="M534.3,966.4 L539.6,975.4 L529,975.4Z" fill="#0000ff"/>
<text transform="translate(561.2,978.9) scale(1.062,1)" font-size="18.8">d =3.16 mm</text>
<text x="335.1" y="1357.7" font-size="21.5">Forcing Angle</text>
<text transform="translate(474.9,1359.3) scale(1.11,1)" font-size="22" style="font-family:Liberation Serif;font-style:italic">α</text>
<text x="491.5" y="1358.7" font-size="21.5" style="font-family:Liberation Serif">(</text>
<text x="507.1" y="1358.7" font-size="21.5" style="font-family:Liberation Serif">)</text>
<circle cx="502.7" cy="1346.5" r="2.6" fill="none" stroke="#111" stroke-width="1.1"/>
<text transform="translate(139.6,1099.5) rotate(-90)" x="0" y="0" font-size="20.8" text-anchor="middle">Δy/Δz</text>
<text x="1" y="927.7" font-size="20" style="font-family:Liberation Serif">c</text>
</svg>
</body></html>
